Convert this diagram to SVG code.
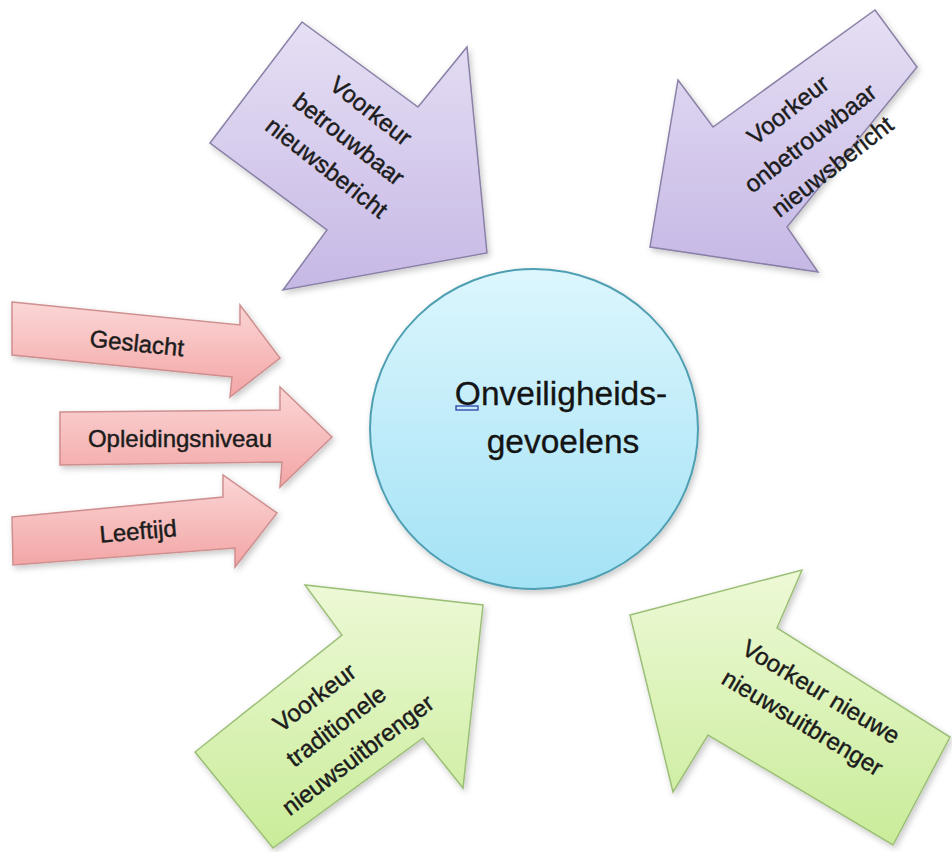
<svg xmlns="http://www.w3.org/2000/svg" width="952" height="852" viewBox="0 0 952 852">
  <defs>
    <linearGradient id="gPurple" x1="0" y1="0" x2="0" y2="1">
      <stop offset="0" stop-color="#e6dff4"/>
      <stop offset="1" stop-color="#c6b8e5"/>
    </linearGradient>
    <linearGradient id="gPink" x1="0" y1="0" x2="0" y2="1">
      <stop offset="0" stop-color="#fbd6d6"/>
      <stop offset="1" stop-color="#f3a5a5"/>
    </linearGradient>
    <linearGradient id="gGreen" x1="0" y1="0" x2="0" y2="1">
      <stop offset="0" stop-color="#edf9d6"/>
      <stop offset="1" stop-color="#c9ec99"/>
    </linearGradient>
    <linearGradient id="gCyan" x1="0" y1="0" x2="0" y2="1">
      <stop offset="0" stop-color="#dcf6fd"/>
      <stop offset="1" stop-color="#a3e2f5"/>
    </linearGradient>
    <filter id="shadow" x="-10%" y="-10%" width="120%" height="120%">
      <feDropShadow dx="2" dy="3" stdDeviation="3" flood-color="#000" flood-opacity="0.22"/>
    </filter>
  </defs>
  <style>
    .purple { fill: url(#gPurple); stroke: #8a80a6; stroke-width: 1.5; filter: url(#shadow); }
    .pink { fill: url(#gPink); stroke: #cf8f8f; stroke-width: 1.5; filter: url(#shadow); }
    .green { fill: url(#gGreen); stroke: #9cbf78; stroke-width: 1.5; filter: url(#shadow); }
    .center { fill: url(#gCyan); stroke: #4f9fb3; stroke-width: 2; filter: url(#shadow); }
    .lbl { font-family: "Liberation Sans", Arial, sans-serif; font-size: 24px; fill: #1c1c1c; stroke: #1c1c1c; stroke-width: 0.45; text-anchor: middle; }
    .big { font-family: "Liberation Sans", Arial, sans-serif; font-size: 33.5px; fill: #141414; stroke: #141414; stroke-width: 0.3; text-anchor: middle; }
  </style>
  <rect x="0" y="0" width="952" height="852" fill="#ffffff"/>

  <g id="connectors"></g>

  <g id="arrow-betrouwbaar">
    <polygon class="purple" points="210,143 302,22 418,107 467,47 487,253 283,290 327,230"/>
    <g transform="translate(349,139) rotate(38)">
      <text class="lbl" x="0" y="-27.5">Voorkeur</text>
      <text class="lbl" x="0" y="8.5">betrouwbaar</text>
      <text class="lbl" x="0" y="44.5">nieuwsbericht</text>
    </g>
  </g>

  <g id="arrow-onbetrouwbaar">
    <polygon class="purple" points="678,80 713,127 875,10 917,67 787,227 818,272 650,247"/>
    <g transform="translate(810,138) rotate(-38)">
      <text class="lbl" x="0" y="-27.5">Voorkeur</text>
      <text class="lbl" x="0" y="8.5">onbetrouwbaar</text>
      <text class="lbl" x="0" y="44.5">nieuwsbericht</text>
    </g>
  </g>

  <g id="arrow-geslacht">
    <polygon class="pink" points="12,302 240,325 240,305 280,358 230,397 232,377 12,355"/>
    <text class="lbl" transform="translate(137,343) rotate(6)" x="0" y="8.5">Geslacht</text>
  </g>

  <g id="arrow-opleidingsniveau">
    <polygon class="pink" points="60,412 280,410 280,387 332,437 280,487 282,462 60,465"/>
    <text class="lbl" x="180" y="447">Opleidingsniveau</text>
  </g>

  <g id="arrow-leeftijd">
    <polygon class="pink" points="12,517 223,497 223,475 277,513 235,567 235,548 13,565"/>
    <text class="lbl" transform="translate(138,531) rotate(-5)" x="0" y="8.5">Leeftijd</text>
  </g>

  <g id="arrow-traditionele">
    <polygon class="green" points="483,605 463,788 423,738 273,848 195,752 342,635 305,585"/>
    <g transform="translate(336,726) rotate(-37)">
      <text class="lbl" x="0" y="-27.5">Voorkeur</text>
      <text class="lbl" x="0" y="8.5">traditionele</text>
      <text class="lbl" x="0" y="44.5">nieuwsuitbrenger</text>
    </g>
  </g>

  <g id="arrow-nieuwe">
    <polygon class="green" points="630,615 802,570 777,628 950,737 893,845 708,735 673,792"/>
    <g transform="translate(812,707) rotate(31)">
      <text class="lbl" x="0" y="-9.5">Voorkeur nieuwe</text>
      <text class="lbl" x="0" y="26.5">nieuwsuitbrenger</text>
    </g>
  </g>

  <g id="node-onveiligheidsgevoelens">
    <ellipse class="center" cx="534" cy="429" rx="164" ry="160"/>
    <text class="big" x="561" y="405">Onveiligheids-</text>
    <text class="big" x="563" y="453">gevoelens</text>
    <rect x="456" y="406" width="22" height="4" fill="none" stroke="#2b3fa8" stroke-width="1.3"/>
  </g>
</svg>
